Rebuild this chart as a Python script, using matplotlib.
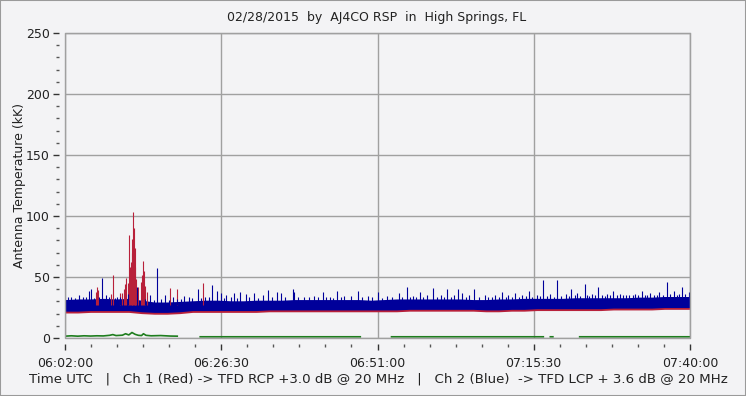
import matplotlib

matplotlib.use("Agg")
import matplotlib.pyplot as plt
import numpy as np
from matplotlib.patches import Rectangle
from matplotlib.ticker import FixedLocator, MultipleLocator

# Time axis is minutes after 06:02:00 UTC.
TICK_MINUTES = [0, 24.5, 49, 73.5, 98]
TICK_LABELS = ["06:02:00", "06:26:30", "06:51:00", "07:15:30", "07:40:00"]

# Noise band envelopes (kK), read every 2 minutes.
BAND_T = [0, 2, 4, 6, 8, 10, 12, 14, 16, 18, 20, 22, 24, 26, 28, 30, 32, 34, 36, 38,
          40, 42, 44, 46, 48, 50, 52, 54, 56, 58, 60, 62, 64, 66, 68, 70, 72, 74, 76, 78,
          80, 82, 84, 86, 88, 90, 92, 94, 96, 98]
BLUE_HI = [31.5, 32, 32, 32.5, 32, 32.5, 31, 29.5, 29.5, 30, 30.5, 31, 31, 30.5, 30.5, 31, 31, 31, 31.5, 31.5,
           31.5, 31.5, 31.5, 31.5, 31, 31.5, 32, 32, 32, 32, 32, 32, 31.5, 31.5, 32, 32, 32.5, 32.5, 32.5, 32.5,
           33, 33, 33, 33, 33, 33.5, 33.5, 34, 34, 34]
BLUE_LO = [22, 22, 22.5, 22.5, 22.5, 22.5, 21.5, 21, 21, 21.5, 22.5, 22.5, 22.5, 22.5, 22.5, 22.5, 23, 23, 23, 23,
           23, 23, 23, 23, 23, 23, 23, 23.5, 23.5, 23.5, 23.5, 23.5, 23.5, 23, 23, 23.5, 23.5, 24, 24, 24,
           24, 24, 24, 24.5, 24.5, 24.5, 24.5, 25, 25, 25]
RED_HI = [28.5, 29, 29, 29.5, 29.5, 32, 30, 27, 27, 27.5, 28, 28, 28, 28, 28, 28, 28, 28, 28.5, 28.5,
          28.5, 28.5, 28.5, 28.5, 28, 28.5, 29, 29, 29, 29, 29, 29, 28.5, 28.5, 29, 29, 29.5, 29.5, 29.5, 29.5,
          30, 30, 30, 30, 30, 30.5, 30.5, 31, 31, 31]
RED_LO = [20.5, 20.5, 21, 21, 21, 21, 20, 19.5, 19.5, 20, 21, 21, 21, 21, 21, 21, 21.5, 21.5, 21.5, 21.5,
          21.5, 21.5, 21.5, 21.5, 21.5, 21.5, 21.5, 22, 22, 22, 22, 22, 22, 21.5, 21.5, 22, 22, 22.5, 22.5, 22.5,
          22.5, 22.5, 22.5, 23, 23, 23, 23, 23.5, 23.5, 23.5]

# Ch 1 (red) spikes: time, peak
RED_SPIKE_T = [4.9, 5.0, 5.1, 7.2, 7.6, 8.6, 9.0, 9.2, 9.4, 9.6, 9.8, 10.0, 10.15, 10.3, 10.45, 10.55,
               10.7, 10.8, 10.9, 11.05, 11.2, 11.5, 11.9, 12.1, 12.3, 12.45, 12.6, 12.8, 16.4, 17.5, 21.6]
RED_SPIKE_V = [38, 41.5, 39, 36, 51.4, 37, 37, 40, 44, 49, 45, 84.4, 58, 62, 70, 81,
               103, 90, 74, 58, 48, 42, 46, 52, 63, 55, 43, 38, 40.7, 40, 44.8]

# Ch 2 (blue) spikes: time, peak
BLUE_SPIKE_T = [1.0, 2.2, 3.7, 4.1, 5.75, 6.4, 8.2, 9.9, 11.3, 13.4, 14.4, 15.7, 16.9, 18.6, 19.5, 20.8,
                22.0, 23.1, 23.9, 24.5, 25.3, 26.5, 27.5, 28.4, 29.7, 31.0, 31.9, 33.3, 33.9, 35.7, 35.9,
                37.5, 39.0, 40.4, 41.5, 42.6, 43.8, 44.8, 45.9, 47.5, 49.1, 50.5, 52.4, 53.6, 54.6, 55.6,
                56.8, 57.7, 58.9, 59.9, 61.0, 61.7, 62.2, 63.3, 64.2, 65.8, 67.5, 68.6, 69.5, 70.6, 71.7,
                72.8, 74.0, 75.0, 76.0, 77.2, 78.5, 79.4, 80.3, 81.5, 82.6, 83.6, 85.0, 86.0, 87.0, 88.0,
                89.3, 90.4, 91.8, 93.2, 94.4, 95.5, 96.7, 97.8]
BLUE_SPIKE_V = [34, 35, 38.8, 40, 49.5, 35, 34, 36, 41.5, 35, 57, 35, 33.5, 34.6, 34, 40,
                34, 43.4, 38.5, 36.6, 35.2, 37, 38, 35.8, 37, 35.2, 39.3, 37.4, 36.6, 39.9, 38,
                34, 34.5, 37.4, 34, 38.5, 34.5, 34.7, 38.5, 34.5, 37.4, 34.5, 36.6, 42, 34.5, 37.4,
                35, 41, 35, 40.2, 35, 40.2, 36.6, 35, 40.5, 35, 35, 37.4, 35, 36.6, 35.5,
                38.5, 35.5, 47.5, 36, 47.5, 36, 40, 37, 44.2, 36, 42, 36, 38.5, 36, 35,
                36, 38.5, 36.6, 37.5, 45.9, 38.5, 41.6, 38]

# small hairs sticking out of the blue band
BLUE_HAIR_T = [0.5, 1.6, 2.8, 3.3, 4.6, 5.3, 6.9, 7.8, 8.7, 12.6, 13.9, 15.1, 16.3, 17.6, 18.2, 19.9,
               21.4, 22.6, 24.9, 26.0, 27.0, 28.9, 30.3, 32.5, 34.5, 36.5, 38.3, 39.6, 41.0, 42.1, 43.3,
               46.6, 48.2, 49.7, 51.2, 52.9, 54.1, 55.1, 56.2, 58.3, 59.4, 60.5, 62.8, 64.9, 66.4, 67.0,
               68.1, 69.1, 70.1, 71.2, 72.3, 73.3, 74.5, 75.5, 76.6, 77.8, 79.0, 79.9, 80.8, 81.9, 82.2,
               83.1, 84.2, 84.6, 85.5, 86.5, 87.5, 88.5, 89.0, 89.8, 90.9, 91.3, 92.4, 92.8, 93.7, 94.9,
               95.9, 96.2, 97.2]
BLUE_HAIR_V = [33.5, 33, 34, 33.5, 33, 34, 33.5, 33, 34, 32, 31.5, 32, 31.5, 32, 32, 33,
               33, 33.5, 33, 33.5, 33, 33.5, 33, 34, 33.5, 33.5, 33.5, 33.5, 33.5, 33, 33.5,
               33.5, 33.5, 33, 34, 34, 33.5, 34, 33.5, 34, 34, 33.5, 34, 33.5, 33.5, 34,
               34, 33.5, 34, 34, 34.5, 34, 34.5, 34.5, 34, 34.5, 34.5, 35, 34.5, 35, 34.5,
               35, 35, 34.5, 35, 35, 35, 35, 35.5, 35, 35.5, 35, 35.5, 35.5, 35.5, 36,
               35.5, 36, 36]

# Green trace (gaps where no data)
GREEN_T = [0, 1, 2, 3, 4, 5, 6, 7, 7.5, 8, 9, 9.5, 10, 10.5, 11, 11.5, 12, 12.3, 12.7, 13.5, 15, 16.5, 17.6,
           np.nan, 21.2, 30, 40, 46.3, np.nan, 51.2, 60, 75, np.nan, 76.1, 76.5, np.nan, 80.7, 90, 98]
GREEN_V = [1.5, 1.8, 1.5, 1.8, 1.6, 1.8, 1.7, 2.2, 2.8, 2, 2.3, 3.5, 2.5, 4.5, 3, 2.2, 2, 3.5, 2.2, 1.8, 2, 1.6, 1.5,
           np.nan, 1, 1, 1, 1, np.nan, 1, 1, 1, np.nan, 1, 1, np.nan, 1, 1, 1]

BG = "#f3f3f5"
GRID = "#a0a0a0"
RED = "#b8203a"
BLUE = "#00009a"
GREEN = "#1e7d1e"


def main():
    plt.rcParams["font.family"] = "DejaVu Sans"
    fig = plt.figure(figsize=(7.46, 3.96), dpi=100, facecolor=BG)
    ax = fig.add_axes([65 / 746, 1 - 338 / 396, 625 / 746, 305 / 396])
    ax.set_facecolor(BG)

    ax.fill_between(BAND_T, RED_LO, RED_HI, color=RED, lw=0)
    ax.vlines(RED_SPIKE_T, 27, RED_SPIKE_V, color=RED, lw=0.8)
    ax.fill_between(BAND_T, BLUE_LO, BLUE_HI, color=BLUE, lw=0)
    ax.vlines(BLUE_HAIR_T, 27, BLUE_HAIR_V, color=BLUE, lw=0.8)
    ax.vlines(BLUE_SPIKE_T, 27, BLUE_SPIKE_V, color=BLUE, lw=0.8)
    ax.plot(GREEN_T, GREEN_V, color=GREEN, lw=1.2)

    ax.set_xlim(0, 98)
    ax.set_ylim(0, 250)
    ax.xaxis.set_major_locator(FixedLocator(TICK_MINUTES))
    ax.set_xticklabels(TICK_LABELS)
    ax.xaxis.set_minor_locator(MultipleLocator(24.5 / 6))
    ax.yaxis.set_major_locator(MultipleLocator(50))
    ax.yaxis.set_minor_locator(MultipleLocator(10))
    ax.grid(True, which="major", color=GRID, lw=1.0)
    ax.set_axisbelow(True)

    for side in ("left", "bottom"):
        ax.spines[side].set_position(("outward", 4))
        ax.spines[side].set_visible(False)
    for side in ("top", "right"):
        ax.spines[side].set_color(GRID)
    ax.add_patch(Rectangle((0, 0), 1, 1, transform=ax.transAxes, fill=False,
                           ec=GRID, lw=1.0, clip_on=False, zorder=5))

    ax.tick_params(axis="both", which="major", length=4, width=1, color="#333333",
                   labelsize=9, labelcolor="#222222")
    ax.tick_params(axis="both", which="minor", length=2.5, width=1, color="#555555")
    ax.tick_params(axis="x", which="major", pad=6)
    ax.tick_params(axis="y", which="major", pad=3)

    ax.set_ylabel("Antenna Temperature (kK)", fontsize=9, color="#222222")
    ax.yaxis.set_label_coords(-39 / 625, 0.5)
    fig.text(377 / 746, 1 - 18 / 396, "02/28/2015  by  AJ4CO RSP  in  High Springs, FL",
             ha="center", va="center", fontsize=9, color="#222222")
    fig.text(378 / 746, 1 - 379 / 396,
             "Time UTC   |   Ch 1 (Red) -> TFD RCP +3.0 dB @ 20 MHz   |   "
             "Ch 2 (Blue)  -> TFD LCP + 3.6 dB @ 20 MHz",
             ha="center", va="center", fontsize=9.6, color="#222222")

    fig.patches.append(Rectangle((0, 0), 1, 1, transform=fig.transFigure, fill=False,
                                 ec="#9a9a9a", lw=1.5))
    fig.savefig("out.png", dpi=100, facecolor=BG)
    plt.close(fig)


if __name__ == "__main__":
    main()
